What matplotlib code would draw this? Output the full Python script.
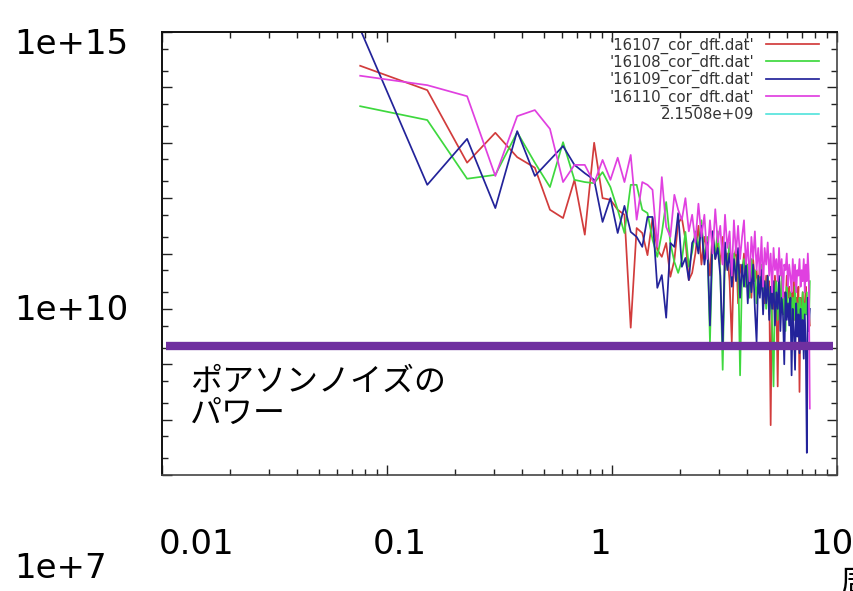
import matplotlib
matplotlib.use("Agg")
import matplotlib.pyplot as plt
from matplotlib.ticker import LogLocator, NullFormatter
import numpy as np

# frequency grid (x values)
freq = [0.076, 0.151, 0.227, 0.303, 0.379, 0.454, 0.530, 0.606, 0.681, 0.757,
        0.833, 0.908, 0.984, 1.060, 1.136, 1.211, 1.287, 1.363, 1.438, 1.514,
        1.590, 1.665, 1.741, 1.817, 1.893, 1.968, 2.044, 2.120, 2.195, 2.271,
        2.347, 2.422, 2.498, 2.574, 2.650, 2.725, 2.801, 2.877, 2.952, 3.028,
        3.104, 3.179, 3.255, 3.331, 3.407, 3.482, 3.558, 3.634, 3.709, 3.785,
        3.861, 3.936, 4.012, 4.088, 4.164, 4.239, 4.315, 4.391, 4.466, 4.542,
        4.618, 4.693, 4.769, 4.845, 4.921, 4.996, 5.072, 5.148, 5.223, 5.299,
        5.375, 5.450, 5.526, 5.602, 5.678, 5.753, 5.829, 5.905, 5.980, 6.056,
        6.132, 6.207, 6.283, 6.359, 6.435, 6.510, 6.586, 6.662, 6.737, 6.813,
        6.889, 6.964, 7.040, 7.116, 7.192, 7.267, 7.343, 7.419, 7.494, 7.570]

# power values, given as log10 of the power
log10_p16107 = [14.39, 13.95, 12.64, 13.18, 12.74, 12.55, 11.79, 11.64, 12.33, 11.34,
                13.00, 12.00, 11.97, 11.79, 11.70, 9.66, 11.46, 11.37, 10.97, 11.64,
                11.07, 10.94, 11.19, 10.58, 10.88, 11.55, 11.64, 11.25, 10.52, 10.65,
                11.0, 11.5, 10.8, 11.3, 11.1, 10.6, 11.4, 10.9, 11.2, 10.8,
                11.3, 10.7, 11.0, 10.5, 9.4, 10.9, 11.1, 10.1, 10.8, 10.6,
                11.0, 10.4, 10.8, 10.6, 10.2, 10.9, 10.5, 10.7, 10.3, 10.8,
                10.4, 10.7, 10.1, 10.6, 10.3, 10.5, 7.9, 10.4, 10.0, 10.6,
                10.2, 8.6, 10.4, 10.1, 10.5, 9.9, 10.3, 10.0, 10.6, 10.2,
                10.4, 9.9, 10.3, 10.1, 10.5, 9.8, 10.2, 10.0, 10.4, 8.5,
                10.2, 9.9, 10.3, 9.8, 10.1, 10.4, 9.9, 10.2, 10.0, 9.7]

log10_p16108 = [13.66, 13.41, 12.35, 12.42, 13.19, 12.64, 12.20, 13.01, 12.33, 12.29,
                12.27, 12.47, 12.20, 11.79, 11.37, 12.24, 12.24, 11.79, 11.73, 11.25,
                10.94, 11.37, 11.93, 11.19, 10.85, 10.65, 10.88, 11.39, 10.76, 11.03,
                11.4, 11.1, 11.6, 10.9, 11.3, 9.4, 11.2, 11.0, 11.4, 10.7,
                8.9, 11.0, 10.8, 11.2, 10.5, 11.0, 10.6, 10.9, 8.8, 10.7,
                10.9, 10.4, 10.8, 10.2, 10.9, 10.5, 10.7, 10.1, 10.6, 10.3,
                10.8, 10.2, 10.5, 10.0, 10.6, 9.9, 10.4, 9.7, 8.6, 10.3,
                10.5, 9.8, 10.4, 10.0, 10.6, 9.9, 10.2, 9.6, 10.4, 10.1,
                9.9, 10.3, 9.7, 10.2, 9.8, 10.4, 9.9, 10.1, 9.5, 10.2,
                10.0, 9.8, 10.3, 9.7, 10.1, 9.9, 10.3, 9.8, 9.6, 10.5]

log10_p16109 = [15.05, 12.24, 13.07, 11.82, 13.21, 12.40, 12.69, 12.94, 12.60, 12.45,
                12.33, 11.57, 12.00, 11.37, 11.86, 11.39, 11.30, 11.12, 11.66, 11.66,
                10.38, 10.61, 9.84, 11.19, 11.12, 11.73, 10.76, 10.92, 10.52, 11.19,
                11.3, 11.0, 11.5, 10.8, 11.2, 9.7, 11.4, 10.9, 11.1, 10.6,
                9.3, 11.2, 10.7, 11.0, 10.4, 10.9, 10.5, 11.1, 10.2, 10.8,
                10.4, 10.9, 10.1, 10.7, 10.3, 10.8, 10.0, 9.4, 10.6, 10.2,
                10.7, 9.9, 10.5, 10.1, 10.6, 9.8, 10.4, 10.0, 10.5, 9.7,
                10.3, 10.0, 10.6, 9.6, 10.2, 9.9, 9.0, 10.3, 9.8, 10.1,
                9.7, 10.2, 8.8, 10.0, 9.6, 8.9, 10.1, 9.5, 9.9, 9.2,
                10.0, 9.4, 9.8, 9.1, 9.9, 9.3, 7.4, 10.2, 9.6, 10.0]

log10_p16110 = [14.21, 14.04, 13.84, 12.40, 13.48, 13.59, 13.25, 12.29, 12.60, 12.60,
                12.27, 12.69, 12.33, 12.73, 12.29, 12.78, 11.61, 12.29, 12.24, 12.15,
                11.12, 12.38, 11.48, 11.30, 12.06, 11.79, 11.61, 12.00, 11.40, 11.70,
                11.2, 11.9, 11.3, 11.7, 10.9, 11.6, 11.0, 11.8, 11.2, 11.5,
                10.8, 11.7, 11.1, 11.4, 10.6, 11.6, 11.0, 11.5, 10.9, 11.3,
                11.6, 10.8, 11.2, 10.5, 11.3, 10.9, 11.4, 10.7, 11.1, 10.6,
                11.3, 10.4, 11.1, 10.8, 11.2, 10.6, 11.0, 10.3, 11.1, 10.7,
                10.9, 10.5, 11.1, 10.6, 10.9, 10.2, 10.8, 10.7, 11.0, 10.4,
                10.8, 10.6, 10.3, 10.9, 10.5, 10.8, 10.3, 10.7, 10.6, 10.9,
                10.4, 10.7, 10.5, 10.9, 10.3, 10.8, 10.5, 11.0, 10.6, 8.2]

poisson_level = 2.1508e9

series_labels = ["'16107_cor_dft.dat'", "'16108_cor_dft.dat'",
                 "'16109_cor_dft.dat'", "'16110_cor_dft.dat'"]
series_colors = ["#d23c3c", "#3ed83e", "#23239a", "#e040e0"]

x_tick_labels = ["0.01", "0.1", "1", "10"]
y_tick_labels = ["1e+15", "1e+10", "1e+7"]

W, H = 854, 591
fig = plt.figure(figsize=(W / 100, H / 100), dpi=100)
ax_l, ax_r, ax_t, ax_b = 162, 837, 32, 475
ax = fig.add_axes([ax_l / W, 1 - ax_b / H, (ax_r - ax_l) / W, (ax_b - ax_t) / H])

x = np.array(freq)
for vals, lab, col in zip([log10_p16107, log10_p16108, log10_p16109, log10_p16110],
                          series_labels, series_colors):
    ax.plot(x, 10 ** np.array(vals), color=col, lw=1.25, label=lab)

ax.plot(x, np.full(len(x), poisson_level), color="#40e0d8", lw=1.1,
        label="2.1508e+09")
ax.axhline(poisson_level, xmin=0.006, xmax=0.994, color="#7030a0", lw=6,
           solid_capstyle="butt", zorder=5)

ax.set_xscale("log")
ax.set_yscale("log")
ax.set_xlim(0.01, 10)
ax.set_ylim(1e7, 1e15)

ax.xaxis.set_major_locator(LogLocator(base=10, numticks=10))
ax.xaxis.set_minor_locator(LogLocator(base=10, subs=np.arange(2, 10), numticks=20))
ax.yaxis.set_major_locator(LogLocator(base=10, numticks=20))
ax.yaxis.set_minor_locator(LogLocator(base=10, subs=(2, 5), numticks=20))
ax.xaxis.set_major_formatter(NullFormatter())
ax.xaxis.set_minor_formatter(NullFormatter())
ax.yaxis.set_major_formatter(NullFormatter())
ax.yaxis.set_minor_formatter(NullFormatter())
ax.tick_params(which="both", direction="in", top=True, right=True,
               color="#222222", width=1.0)
ax.tick_params(which="major", length=7)
ax.tick_params(which="minor", length=4.5)
for side in ["left", "top"]:
    ax.spines[side].set_color("#111111")
    ax.spines[side].set_linewidth(1.4)
for side in ["right", "bottom"]:
    ax.spines[side].set_color("#444444")
    ax.spines[side].set_linewidth(1.2)

leg = ax.legend(loc="upper right", bbox_to_anchor=((819 - ax_l) / (ax_r - ax_l), 0.988),
                frameon=False, markerfirst=False,
                handlelength=3.5, handletextpad=0.8, labelspacing=0.08,
                borderpad=0, borderaxespad=0, prop={"family": "DejaVu Sans", "size": 10.8})
for t in leg.get_texts():
    t.set_color("#333333")

big = dict(family="DejaVu Sans", fontsize=24.5, color="black")
# y labels (overlaid, large)
fig.text(14 / W, 1 - 45 / H, y_tick_labels[0], ha="left", va="center", **big)
fig.text(14 / W, 1 - 311 / H, y_tick_labels[1], ha="left", va="center", **big)
fig.text(14 / W, 1 - 568 / H, y_tick_labels[2], ha="left", va="center", **big)
# x labels (overlaid, large)
for lab, cx in zip(x_tick_labels, [197, 400, 600, 832]):
    fig.text(cx / W, 1 - 545 / H, lab, ha="center", va="center", **big)

jp = dict(family=["Noto Sans CJK JP", "DejaVu Sans"], fontsize=23, color="black")
fig.text(190 / W, 1 - 382 / H, "ポアソンノイズの", ha="left", va="center", **jp)
fig.text(190 / W, 1 - 414 / H, "パワー", ha="left", va="center", **jp)
fig.text(840 / W, 1 - 568 / H, "周波数", ha="left", va="top", **jp)

fig.savefig("out.png", dpi=100)
